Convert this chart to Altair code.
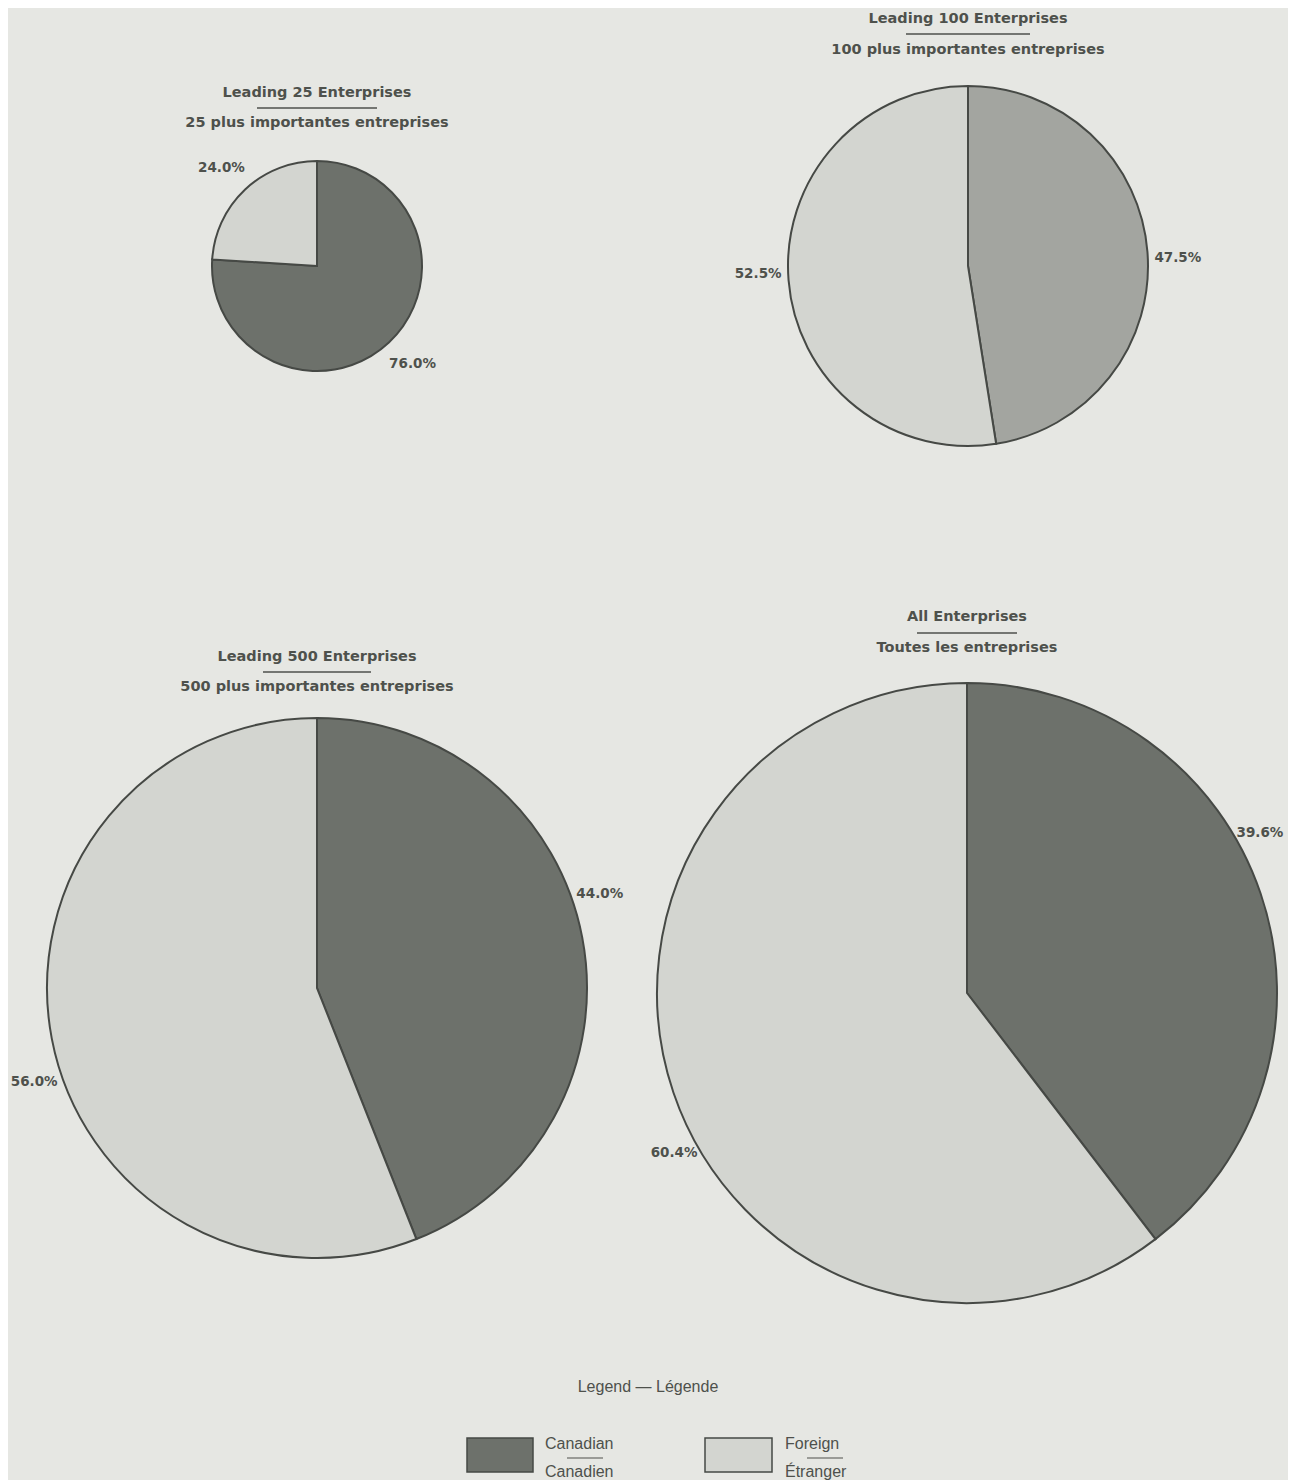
import math
import altair as alt
import pandas as pd

# ---------------- data ----------------
groups_en = ["Leading 25 Enterprises", "Leading 100 Enterprises",
             "Leading 500 Enterprises", "All Enterprises"]
groups_fr = ["25 plus importantes entreprises", "100 plus importantes entreprises",
             "500 plus importantes entreprises", "Toutes les entreprises"]
owners = ["Canadian", "Foreign"]
canadian_pct = [76.0, 47.5, 44.0, 39.6]
foreign_pct = [24.0, 52.5, 56.0, 60.4]
legend_title = ["Legend — Légende"]
legend_en = ["Canadian", "Foreign"]
legend_fr = ["Canadien", "Étranger"]

# ---------------- style / layout ----------------
W, H = 1280, 1472
FONT = "Liberation Sans"
BFONT = "DejaVu Sans"
TXT = "#4e514c"
STROKE = "#464945"
DARK = "#6d716b"
LIGHT = "#d3d5d0"
BG = "#e6e7e3"

LAYOUT = [
    dict(cx=309, cy=258, r=105, lab_r=137, lab_off=-1.0, t1=85, rule=100, t2=115, half=60, can=DARK),
    dict(cx=960, cy=258, r=180, lab_r=210, lab_off=2.4, t1=11, rule=26, t2=42, half=62, can="#a3a5a0"),
    dict(cx=309, cy=980, r=270, lab_r=298, lab_off=-7.6, t1=649, rule=664, t2=679, half=54, can=DARK),
    dict(cx=959, cy=985, r=310, lab_r=334, lab_off=-10.0, t1=609, rule=625, t2=640, half=50, can=DARK),
]

one = pd.DataFrame({"k": [0]})
layers = []

for i, L in enumerate(LAYOUT):
    df = pd.DataFrame({
        "owner": owners,
        "pct": [canadian_pct[i], foreign_pct[i]],
        "order": [0, 1],
    })
    df["label"] = df["pct"].map(lambda v: f"{v:.1f}%")
    base = alt.Chart(df)
    arc = base.mark_arc(radius=L["r"], stroke=STROKE, strokeWidth=2).encode(
        theta=alt.Theta("pct:Q", stack=True),
        order=alt.Order("order:Q"),
        color=alt.Color("owner:N", scale=alt.Scale(domain=owners, range=[L["can"], LIGHT]), legend=None),
        x=alt.value(L["cx"]),
        y=alt.value(L["cy"]),
    )
    off = math.radians(L["lab_off"])
    lab = base.mark_text(radius=L["lab_r"], font=BFONT, fontSize=13.5, fontWeight="bold",
                         color=TXT, align="center", baseline="middle").encode(
        theta=alt.Theta("pct:Q", stack=True, scale=alt.Scale(range=[off, 2 * math.pi + off])),
        order=alt.Order("order:Q"),
        detail="owner:N",
        text=alt.Text("label:N"),
        x=alt.value(L["cx"]),
        y=alt.value(L["cy"]),
    )
    t1 = alt.Chart(pd.DataFrame({"t": [groups_en[i]]})).mark_text(
        font=BFONT, fontSize=14.5, fontWeight="bold", color=TXT, align="center", baseline="middle"
    ).encode(text="t:N", x=alt.value(L["cx"]), y=alt.value(L["t1"]))
    t2 = alt.Chart(pd.DataFrame({"t": [groups_fr[i]]})).mark_text(
        font=BFONT, fontSize=14.5, fontWeight="bold", color=TXT, align="center", baseline="middle"
    ).encode(text="t:N", x=alt.value(L["cx"]), y=alt.value(L["t2"]))
    rule = alt.Chart(one).mark_rule(color=TXT, strokeWidth=1.3).encode(
        x=alt.value(L["cx"] - L["half"]), x2=alt.value(L["cx"] + L["half"]), y=alt.value(L["rule"])
    )
    layers += [arc, lab, t1, rule, t2]

# ---------------- legend ----------------
layers.append(
    alt.Chart(pd.DataFrame({"t": legend_title})).mark_text(
        font=FONT, fontSize=16, color=TXT, align="center", baseline="middle"
    ).encode(text="t:N", x=alt.value(640), y=alt.value(1379))
)
LEG = [dict(x0=459, x1=525, tx=537, fill=DARK), dict(x0=697, x1=764, tx=777, fill=LIGHT)]
for j, G in enumerate(LEG):
    layers.append(
        alt.Chart(one).mark_rect(fill=G["fill"], stroke=STROKE, strokeWidth=1.5).encode(
            x=alt.value(G["x0"]), x2=alt.value(G["x1"]), y=alt.value(1430), y2=alt.value(1464)
        )
    )
    layers.append(
        alt.Chart(pd.DataFrame({"t": [legend_en[j]]})).mark_text(
            font=FONT, fontSize=16, color=TXT, align="left", baseline="middle"
        ).encode(text="t:N", x=alt.value(G["tx"]), y=alt.value(1436))
    )
    layers.append(
        alt.Chart(one).mark_rule(color=TXT, strokeWidth=1.2).encode(
            x=alt.value(G["tx"] + 22), x2=alt.value(G["tx"] + 58), y=alt.value(1450)
        )
    )
    layers.append(
        alt.Chart(pd.DataFrame({"t": [legend_fr[j]]})).mark_text(
            font=FONT, fontSize=16, color=TXT, align="left", baseline="middle"
        ).encode(text="t:N", x=alt.value(G["tx"]), y=alt.value(1464))
    )

chart = alt.layer(*layers).resolve_scale(
    theta="independent", color="independent"
).properties(
    width=W, height=H, padding=0, autosize="none", background=BG
).configure_view(stroke=None)

chart.save("out.html", embed_options={"renderer": "svg", "actions": False})
